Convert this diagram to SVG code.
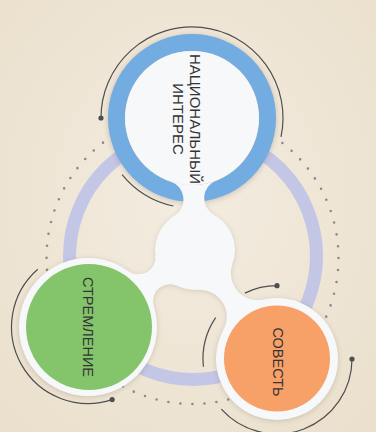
<svg xmlns="http://www.w3.org/2000/svg" xmlns:xlink="http://www.w3.org/1999/xlink" width="376" height="432" viewBox="0 0 376 432">
<defs>
<radialGradient id="bg" cx="50%" cy="45%" r="70%">
<stop offset="0" stop-color="#f3ece0"/>
<stop offset="1" stop-color="#ebe0cd"/>
</radialGradient>
<filter id="blur" x="-20%" y="-20%" width="140%" height="140%"><feGaussianBlur stdDeviation="2.5"/></filter>
<path id="necks" d="M216.25,180.44 A19 19 0 0 0 214.07,214.85 L174.36,215.76 A19 19 0 0 0 170.61,181.49 A67 67 0 0 0 216.25,180.44 Z M153.83,306.35 A17 17 0 0 1 177.49,285.97 L155.33,255.16 A17 17 0 0 1 128.49,271.13 Z M263.75,299.46 A27 27 0 0 1 232.55,263.8 L197.85,289.9 A27 27 0 0 1 223.47,329.77 Z"/>
<style>
.arc{fill:none;stroke:#4f4f4f;stroke-width:1.2}
.dot{fill:#4f4f4f}
.wh{fill:#f7f8fa}
.lbl{font-family:"Liberation Sans",Arial,sans-serif;fill:#333;text-anchor:middle}
</style>
</defs>
<rect width="376" height="432" fill="url(#bg)"/>
<g id="decor">
<circle cx="193" cy="256" r="123.5" fill="none" stroke="#c4c6e6" stroke-width="13"/>
<circle cx="192.5" cy="258" r="146" fill="none" stroke="#8f8a82" stroke-width="2.6" stroke-linecap="round" stroke-dasharray="0 12.07"/>
<path class="arc" d="M101,118 A91 91 0 1 1 281,136.9"/>
<circle class="dot" cx="101" cy="118" r="2.6"/>
<path class="arc" d="M122.1,174.6 A90 90 0 0 0 173.3,206"/>
<path class="arc" d="M37.8,269.3 A76.5 76.5 0 0 0 112.15,399.6"/>
<circle class="dot" cx="112.15" cy="399.6" r="2.6"/>
<path class="arc" d="M352,359 A75 75 0 0 1 221.3,409.2"/>
<circle class="dot" cx="352" cy="359" r="2.6"/>
<path class="arc" d="M244.9,293.1 A73.3 73.3 0 0 1 277,285.7"/>
<circle class="dot" cx="277" cy="285.7" r="2.6"/>
<path class="arc" d="M203.4,366.7 A74 74 0 0 1 215.65,317.6"/>
</g>
<g id="shadows" filter="url(#blur)" fill="#6b5f50" opacity="0.22" transform="translate(0,1)">
<circle cx="192" cy="118" r="85"/>
<circle cx="195" cy="250" r="40"/>
<use xlink:href="#necks"/>
<circle cx="88" cy="327" r="69.5"/>
<circle cx="277" cy="359" r="61.5"/>
</g>
<g id="node-national">
<circle cx="192" cy="118" r="75.5" fill="none" stroke="#72ace0" stroke-width="17"/>
<circle class="wh" cx="192" cy="118" r="67"/>
<text class="lbl" font-size="15" transform="translate(190,119) rotate(90)">НАЦИОНАЛЬНЫЙ</text>
<text class="lbl" font-size="15" transform="translate(173,119) rotate(90)">ИНТЕРЕС</text>
</g>
<g id="connectors">
<circle class="wh" cx="195" cy="250" r="40"/>
<use class="wh" xlink:href="#necks"/>
</g>
<g id="node-strive">
<circle class="wh" cx="88" cy="327" r="69"/>
<circle cx="89" cy="327" r="63" fill="#84c56b"/>
<text class="lbl" font-size="14.5" transform="translate(83,327) rotate(90)">СТРЕМЛЕНИЕ</text>
</g>
<g id="node-conscience">
<circle class="wh" cx="277" cy="359" r="61"/>
<circle cx="277" cy="358.5" r="53" fill="#f7a068"/>
<text class="lbl" font-size="14.5" transform="translate(273,362) rotate(90)">СОВЕСТЬ</text>
</g>
</svg>
